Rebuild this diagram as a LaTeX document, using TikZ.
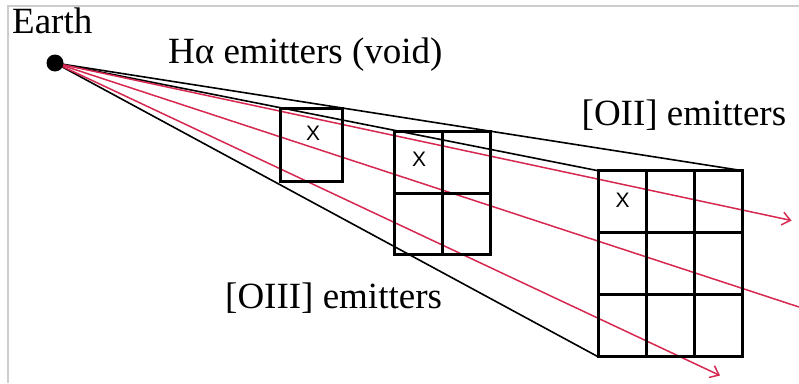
\documentclass[tikz,border=0pt]{standalone}
\usepackage{fontspec}
\setmainfont{Liberation Serif}
\newfontfamily\xfont{Liberation Sans}
\usetikzlibrary{arrows.meta,calc,backgrounds}
\definecolor{raycol}{RGB}{214,40,80}
\definecolor{framecol}{RGB}{205,205,205}
\begin{document}
\begin{tikzpicture}[x=1pt,y=-1pt,
  ray/.style={draw=raycol, line width=1.5pt},
  rayarrow/.style={ray, -{Straight Barb[length=8pt,width=13pt,line width=1.5pt]}},
  sightline/.style={draw=black, line width=1.6pt},
  cellbox/.style={draw=black, line width=3pt, inner sep=0pt, outer sep=0pt},
  gridline/.style={draw=black, line width=3pt},
  lbl/.style={font=\fontsize{37}{42}\selectfont, anchor=base west, inner sep=0pt},
  xmark/.style={font=\xfont\fontsize{21}{23}\selectfont, inner sep=0pt},
]
\useasboundingbox (0,0) rectangle (799,383);
% observer
\node[circle, fill=black, minimum size=17pt, inner sep=0pt] (earth) at (55,63) {};
% boxes
\node[cellbox, minimum width=62pt, minimum height=73.5pt, anchor=north west] (b1) at (280.7,108.3) {};
\node[cellbox, minimum width=95.7pt, minimum height=122.6pt, anchor=north west] (b2) at (394.3,131.7) {};
\node[cellbox, minimum width=144.7pt, minimum height=186pt, anchor=north west] (b3) at (598,170.7) {};
% grid lines
\draw[gridline] (b2.north) -- (b2.south);
\draw[gridline] (b2.west) -- (b2.east);
\draw[gridline] ($(b3.north west)!1/3!(b3.north east)$) -- ($(b3.south west)!1/3!(b3.south east)$);
\draw[gridline] ($(b3.north west)!2/3!(b3.north east)$) -- ($(b3.south west)!2/3!(b3.south east)$);
\draw[gridline] ($(b3.north west)!1/3!(b3.south west)$) -- ($(b3.north east)!1/3!(b3.south east)$);
\draw[gridline] ($(b3.north west)!2/3!(b3.south west)$) -- ($(b3.north east)!2/3!(b3.south east)$);
% X marks
\node[xmark] (x1) at (313,133) {X};
\node[xmark] (x2) at (419,159) {X};
\node[xmark] (x3) at (622.7,200) {X};
% ray end points
\coordinate (r1) at (791.5,220.5);
\coordinate (r2) at (799,307);
\coordinate (r3) at (720,375.5);
\begin{scope}[on background layer]
  \fill[white] (0,0) rectangle (799,383);
  \draw[framecol, line width=1.5pt] (8,383) -- (8,6) -- (799,6);
  \draw[sightline] (earth.center) -- (b3.north east);
  \draw[sightline] (earth.center) -- (b3.north west);
  \draw[sightline] (earth.center) -- (b3.south west);
  \draw[rayarrow] (earth.center) -- (r1);
  \draw[ray] (earth.center) -- (r2);
  \draw[rayarrow] (earth.center) -- (r3);
\end{scope}
% labels
\node[lbl] (earthlbl) at (12,33) {Earth};
\node[lbl] (ha) at (168,63) {Hα emitters (void)};
\node[lbl] (oii) at (581.5,125) {[OII] emitters};
\node[lbl] (oiii) at (225,308) {[OIII] emitters};
\end{tikzpicture}
\end{document}
